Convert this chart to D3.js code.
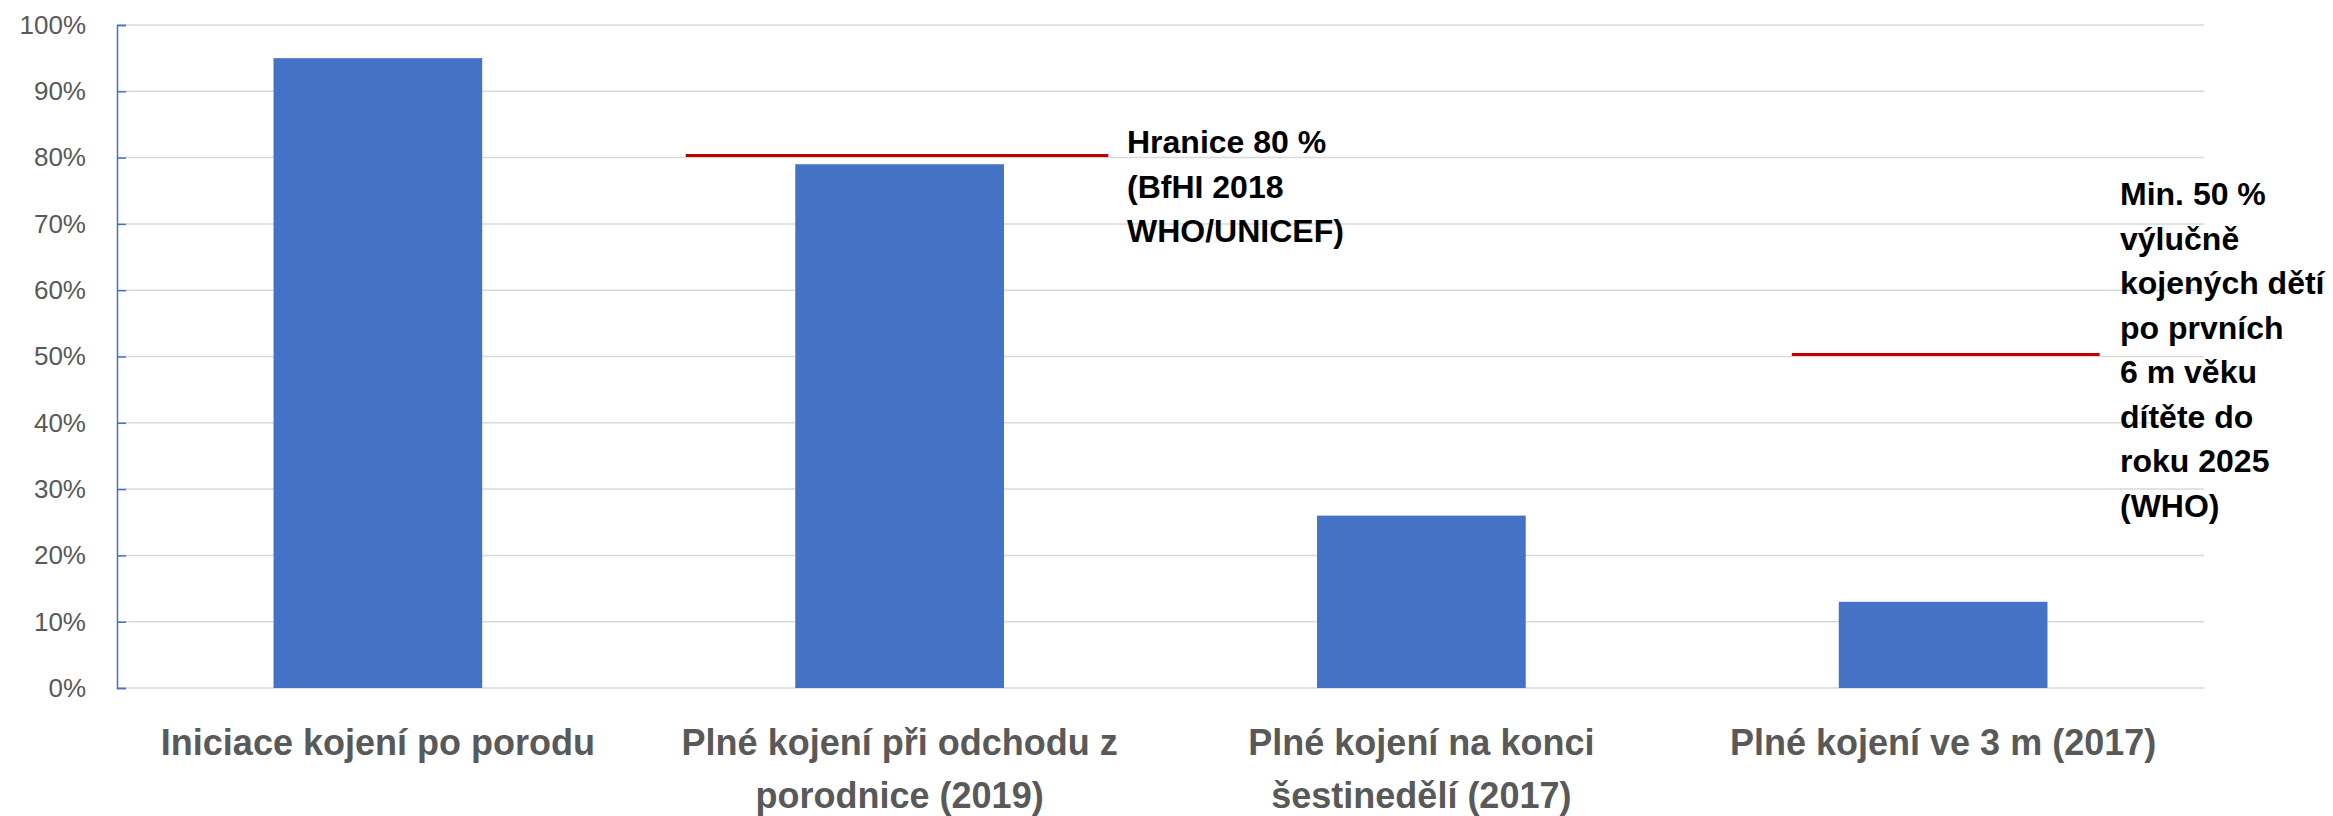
<!DOCTYPE html>
<html>
<head>
<meta charset="utf-8">
<script src="https://cdn.jsdelivr.net/npm/d3@7"></script>
<style>
  body { margin: 0; background: #fff; }
  svg { display: block; font-family: "Liberation Sans", Arial, sans-serif; }
</style>
</head>
<body>
<svg id="chart" width="2333" height="816"></svg>
<script>
// data
var categories = ["c1", "c2", "c3", "c4"];
var categoryLines = [
    ["Iniciace kojení po porodu"],
    ["Plné kojení při odchodu z", "porodnice (2019)"],
    ["Plné kojení na konci", "šestinedělí (2017)"],
    ["Plné kojení ve 3 m (2017)"]
];
var values = [95, 79, 26, 13];
var yTicks = [0, 10, 20, 30, 40, 50, 60, 70, 80, 90, 100];

// target lines: value and extent in category units (0..4)
var targetValues = [80, 50];
var targetFrom = [1.09, 3.21];
var targetTo = [1.90, 3.80];
var targetNotes = [
    ["Hranice 80 %", "(BfHI 2018", "WHO/UNICEF)"],
    ["Min. 50 %", "výlučně", "kojených dětí", "po prvních", "6 m věku", "dítěte do", "roku 2025", "(WHO)"]
];

(function() {
    var plotL = 117, plotR = 2204, plotT = 25, plotB = 688;
    var blue = "#4472C4", grey = "#595959";

    var svg = d3.select("#chart");

    var y = d3.scaleLinear().domain([0, 100]).range([plotB, plotT]);
    var x = d3.scaleBand().domain(categories).range([plotL, plotR])
        .paddingInner(0.6).paddingOuter(0.3);
    var xu = d3.scaleLinear().domain([0, 4]).range([plotL, plotR]);

    // gridlines
    svg.append("g").selectAll("line")
        .data(yTicks)
        .enter().append("line")
        .attr("x1", plotL).attr("x2", plotR)
        .attr("y1", d => y(d)).attr("y2", d => y(d))
        .attr("stroke", "#D9D9D9")
        .attr("stroke-width", 1.5);

    // bars
    svg.append("g").selectAll("rect")
        .data(values)
        .enter().append("rect")
        .attr("x", (d, i) => x(categories[i]))
        .attr("width", x.bandwidth())
        .attr("y", d => y(d))
        .attr("height", d => y(0) - y(d))
        .attr("fill", blue);

    // y axis
    var yAxis = svg.append("g")
        .attr("transform", "translate(" + plotL + ",0)")
        .call(d3.axisLeft(y).tickValues(yTicks).tickFormat(d => d + "%")
            .tickSizeInner(-9).tickSizeOuter(-9).tickPadding(31));
    yAxis.selectAll("path, line").attr("stroke", blue).attr("stroke-width", 1.5);
    yAxis.selectAll("text")
        .attr("fill", grey)
        .style("font-size", "26px")
        .style("font-family", "'Liberation Sans', Arial, sans-serif");

    // category labels
    var lab = svg.append("g").selectAll("text")
        .data(categoryLines)
        .enter().append("text")
        .attr("text-anchor", "middle")
        .attr("fill", grey)
        .style("font-size", "36px")
        .style("font-weight", "bold");
    lab.selectAll("tspan")
        .data((d, i) => d.map(t => ({t: t, i: i})))
        .enter().append("tspan")
        .attr("x", d => x(categories[d.i]) + x.bandwidth() / 2)
        .attr("y", (d, j) => plotB + 67 + j * 53)
        .text(d => d.t);

    // target lines
    svg.append("g").selectAll("line")
        .data(targetValues)
        .enter().append("line")
        .attr("x1", (d, i) => xu(targetFrom[i]))
        .attr("x2", (d, i) => xu(targetTo[i]))
        .attr("y1", d => y(d) - 2).attr("y2", d => y(d) - 2)
        .attr("stroke", "#C00000")
        .attr("stroke-width", 3);

    // notes
    var noteX = [1127, 2120], noteY = [153, 205];
    targetNotes.forEach(function(lines, i) {
        var t = svg.append("text")
            .attr("fill", "#000")
            .style("font-size", "32px")
            .style("font-weight", "bold");
        t.selectAll("tspan")
            .data(lines)
            .enter().append("tspan")
            .attr("x", noteX[i])
            .attr("y", (d, j) => noteY[i] + j * 44.5)
            .text(d => d);
    });
})();
</script>
</body>
</html>
